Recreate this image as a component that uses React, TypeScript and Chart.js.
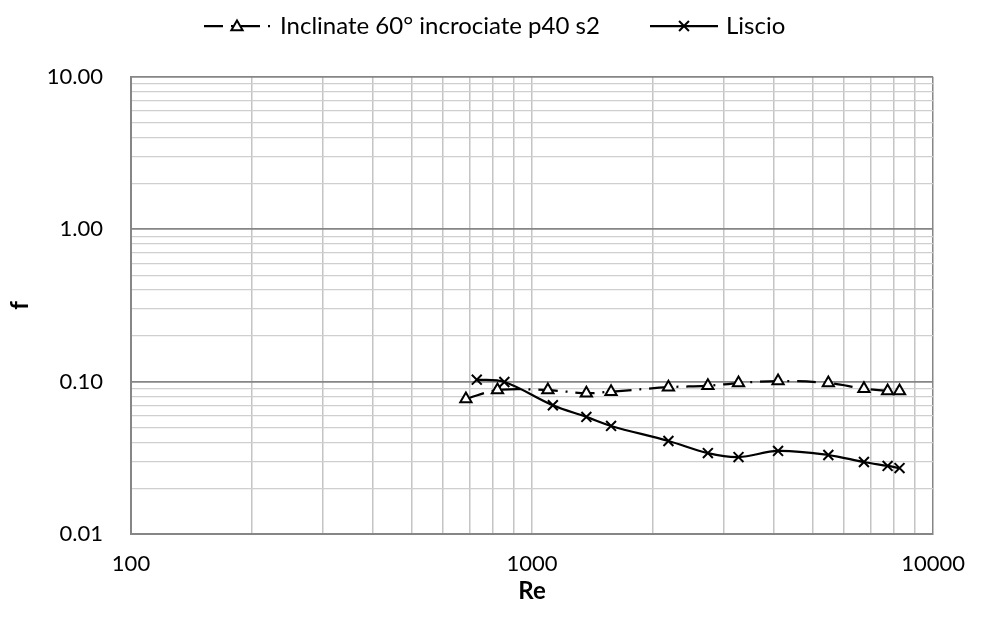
import React, { useEffect, useRef } from 'react';
import { Chart, registerables } from 'chart.js';

Chart.register(...registerables);

// Reynolds number (x) and friction factor (y)
const reInclinate = [684, 820, 1095, 1366, 1574, 2188, 2744, 3272, 4106, 5480, 6723, 7702, 8247];
const fInclinate = [0.077, 0.088, 0.088, 0.084, 0.086, 0.092, 0.094, 0.098, 0.101, 0.098, 0.090, 0.087, 0.087];
const reLiscio = [728, 853, 1127, 1366, 1574, 2188, 2744, 3272, 4106, 5480, 6723, 7702, 8247];
const fLiscio = [0.103, 0.0995, 0.070, 0.0587, 0.0512, 0.0408, 0.0340, 0.0320, 0.0351, 0.0330, 0.0297, 0.0280, 0.0271];

const seriesNames = ['Inclinate 60° incrociate p40 s2', 'Liscio'];

const xTickValues = [100, 200, 300, 400, 500, 600, 700, 800, 900, 1000, 2000, 3000, 4000, 5000, 6000, 7000, 8000, 9000, 10000];
const xMajorLabels: Record<number, string> = { 100: '100', 1000: '1000', 10000: '10000' };
const yTickValues = [0.01, 0.02, 0.03, 0.04, 0.05, 0.06, 0.07, 0.08, 0.09, 0.1, 0.2, 0.3, 0.4, 0.5, 0.6, 0.7, 0.8, 0.9, 1, 2, 3, 4, 5, 6, 7, 8, 9, 10];
const yMajorLabels: Record<number, string> = { 0.01: '0.01', 0.1: '0.10', 1: '1.00', 10: '10.00' };

const FONT = 'Lato, "Open Sans", sans-serif';
const FS_NUM = 22;
const FS_TXT = 24;
const DASH = [19, 8, 2, 8];

function drawTriangle(ctx: CanvasRenderingContext2D, x: number, y: number, r: number) {
  ctx.beginPath();
  ctx.moveTo(x, y - r);
  ctx.lineTo(x + r * 0.866, y + r * 0.5);
  ctx.lineTo(x - r * 0.866, y + r * 0.5);
  ctx.closePath();
  ctx.fillStyle = '#ffffff';
  ctx.fill();
  ctx.setLineDash([]);
  ctx.lineWidth = 2;
  ctx.strokeStyle = '#000';
  ctx.stroke();
}

function drawCross(ctx: CanvasRenderingContext2D, x: number, y: number, r: number) {
  const d = r * 0.7071;
  ctx.beginPath();
  ctx.moveTo(x - d, y - d);
  ctx.lineTo(x + d, y + d);
  ctx.moveTo(x + d, y - d);
  ctx.lineTo(x - d, y + d);
  ctx.setLineDash([]);
  ctx.lineWidth = 2;
  ctx.strokeStyle = '#000';
  ctx.stroke();
}

const legendPlugin = {
  id: 'excelLegend',
  afterDraw(chart: any) {
    const ctx: CanvasRenderingContext2D = chart.ctx;
    const y = 26;
    ctx.save();
    // item 1
    ctx.beginPath();
    ctx.setLineDash(DASH);
    ctx.lineWidth = 2.25;
    ctx.strokeStyle = '#000';
    ctx.moveTo(204, y);
    ctx.lineTo(271, y);
    ctx.stroke();
    drawTriangle(ctx, 237, y + 1, 6.5);
    ctx.fillStyle = '#000';
    ctx.font = `${FS_TXT}px ${FONT}`;
    ctx.textBaseline = 'middle';
    ctx.textAlign = 'left';
    ctx.fillText(seriesNames[0], 280, y);
    // item 2
    ctx.beginPath();
    ctx.setLineDash([]);
    ctx.lineWidth = 2.25;
    ctx.moveTo(650, y);
    ctx.lineTo(718, y);
    ctx.stroke();
    drawCross(ctx, 684, y, 7);
    ctx.fillStyle = '#000';
    ctx.fillText(seriesNames[1], 726, y);
    ctx.restore();
  },
};

export default function App() {
  const ref = useRef<HTMLCanvasElement | null>(null);
  useEffect(() => {
    if (!ref.current) return;
    const chart = new Chart(ref.current, {
      type: 'line',
      data: {
        datasets: [
          {
            label: seriesNames[0],
            data: reInclinate.map((x, i) => ({ x, y: fInclinate[i] })),
            borderColor: '#000',
            borderWidth: 2.25,
            borderDash: DASH,
            tension: 0.35,
            pointStyle: 'triangle',
            pointRadius: 6.5,
            pointBackgroundColor: '#fff',
            pointBorderColor: '#000',
            pointBorderWidth: 2,
            fill: false,
          },
          {
            label: seriesNames[1],
            data: reLiscio.map((x, i) => ({ x, y: fLiscio[i] })),
            borderColor: '#000',
            borderWidth: 2.25,
            tension: 0.35,
            pointStyle: 'crossRot',
            pointRadius: 7,
            pointBorderColor: '#000',
            pointBorderWidth: 2,
            fill: false,
          },
        ],
      },
      options: {
        responsive: false,
        animation: false,
        events: [],
        layout: { padding: { top: 77, right: 38, left: 0, bottom: 0 } },
        plugins: { legend: { display: false }, tooltip: { enabled: false } },
        scales: {
          x: {
            type: 'logarithmic',
            min: 100,
            max: 10000,
            afterBuildTicks: (s: any) => {
              s.ticks = xTickValues.map((v) => ({ value: v }));
            },
            afterFit: (s: any) => {
              s.height = 85;
            },
            ticks: {
              autoSkip: false,
              maxRotation: 0,
              padding: 17,
              color: '#000',
              font: { family: FONT, size: FS_NUM },
              callback: (v: any) => xMajorLabels[Number(v)] ?? '',
            },
            grid: {
              drawTicks: false,
              color: (c: any) => (c.tick && c.tick.value === 10000 ? '#868686' : '#c4c4c4'),
              lineWidth: 1.5,
            },
            border: { color: '#868686', width: 2 },
            title: {
              display: true,
              text: 'Re',
              color: '#000',
              font: { family: FONT, size: FS_TXT, weight: 'bold' },
              padding: { top: 0, bottom: 13 },
            },
          },
          y: {
            type: 'logarithmic',
            min: 0.01,
            max: 10,
            afterBuildTicks: (s: any) => {
              s.ticks = yTickValues.map((v) => ({ value: v }));
            },
            afterFit: (s: any) => {
              s.width = 131;
            },
            ticks: {
              autoSkip: false,
              padding: 28,
              color: '#000',
              font: { family: FONT, size: FS_NUM },
              callback: (v: any) => {
                const n = Number(v);
                for (const k of Object.keys(yMajorLabels)) {
                  if (Math.abs(Number(k) - n) < Number(k) * 1e-6) return yMajorLabels[Number(k)];
                }
                return '';
              },
            },
            grid: {
              drawTicks: false,
              color: (c: any) => {
                const v = c.tick ? c.tick.value : 0;
                const lg = Math.log10(v);
                return Math.abs(lg - Math.round(lg)) < 1e-6 ? '#868686' : '#cfcfcf';
              },
              lineWidth: (c: any) => {
                const v = c.tick ? c.tick.value : 0;
                const lg = Math.log10(v);
                return Math.abs(lg - Math.round(lg)) < 1e-6 ? 1.75 : 1.25;
              },
            },
            border: { color: '#868686', width: 2 },
            title: {
              display: true,
              text: 'f',
              color: '#000',
              font: { family: FONT, size: FS_TXT, weight: 'bold' },
              padding: { top: 6, bottom: 0 },
            },
          },
        },
      },
      plugins: [legendPlugin],
    });
    return () => chart.destroy();
  }, []);
  return (
    <div style={{ position: 'fixed', left: 0, top: 0, width: 982, height: 619, background: '#fff' }}>
      <canvas ref={ref} width={982} height={619} style={{ width: 982, height: 619 }} />
    </div>
  );
}
